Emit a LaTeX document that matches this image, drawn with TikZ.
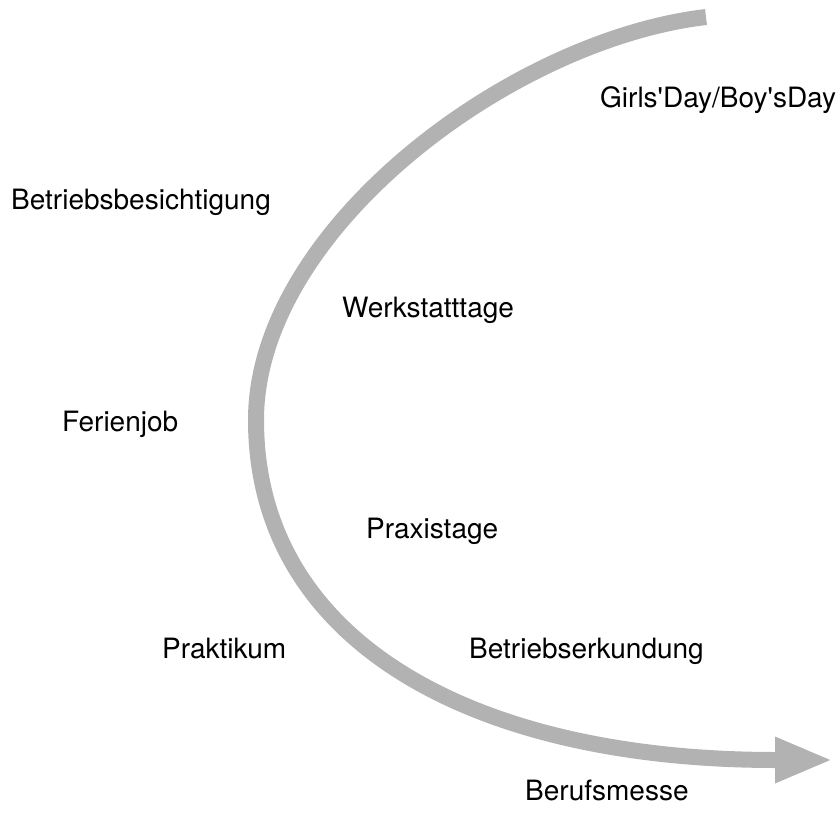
\documentclass[tikz,border=0pt]{standalone}
\usepackage{fontspec}
\usepackage{tikz}
\usetikzlibrary{arrows.meta}
\newfontfamily\labelfont{TeX Gyre Heros}
\definecolor{curvegray}{HTML}{B2B2B2}
\tikzset{x=1pt, y=-1pt,
  lbl/.style={font=\labelfont\fontsize{28}{33}\selectfont, anchor=base west, inner sep=0pt},
  path/.style={draw=curvegray, line width=16pt}}

\begin{document}
\begin{tikzpicture}
\useasboundingbox (0,0) rectangle (839,830);
\coordinate (start) at (706,17);
\coordinate (turn) at (256,420);
\coordinate (shaft) at (776,760);
\coordinate (tip) at (833,760);
\draw[path] (start) .. controls (510,40) and (256,230) .. (turn)
  .. controls (256,640) and (470,760) .. (shaft);
\draw[path, -{Triangle[length=58pt, width=42pt]}] (shaft) -- (tip);
\node[lbl] (girls) at (600,107) {Girls'Day/Boy'sDay};
\node[lbl] (besicht) at (11,209) {Betriebsbesichtigung};
\node[lbl] (werk) at (342,317) {Werkstatttage};
\node[lbl] (ferien) at (62,431) {Ferienjob};
\node[lbl] (praxis) at (366,538) {Praxistage};
\node[lbl] (praktikum) at (162,658) {Praktikum};
\node[lbl] (erkund) at (469,658) {Betriebserkundung};
\node[lbl] (messe) at (525,800) {Berufsmesse};
\end{tikzpicture}
\end{document}
